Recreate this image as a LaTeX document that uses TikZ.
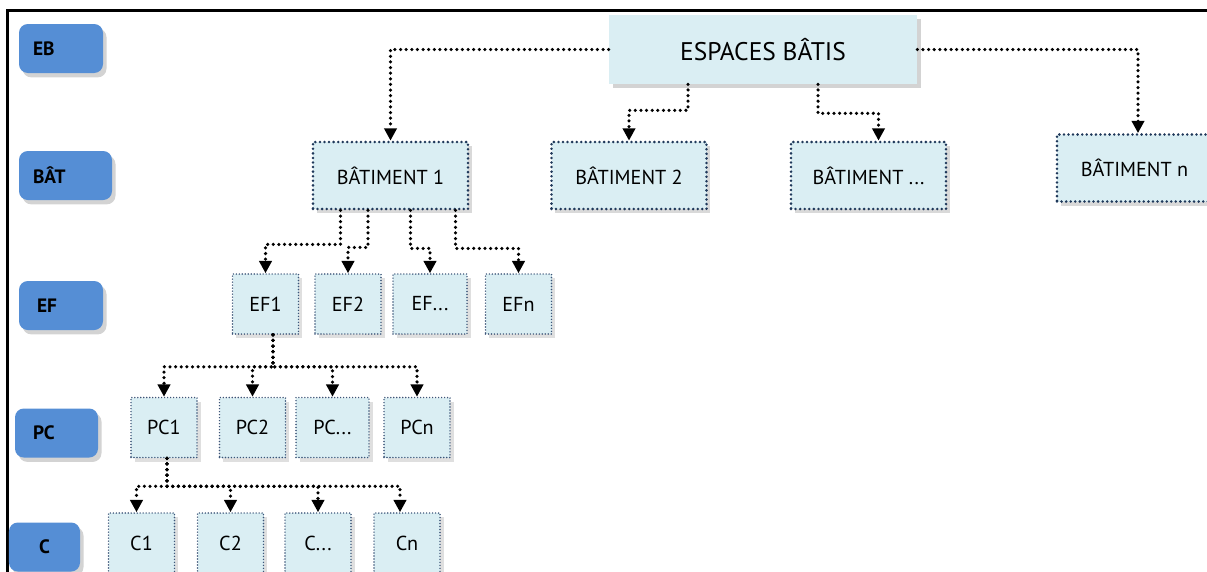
\documentclass[tikz,border=0pt]{standalone}
\usepackage{fontspec}
\setmainfont{PT Sans}
\usepackage{tikz}
\usetikzlibrary{arrows.meta, positioning, shadows}
\definecolor{lvlblue}{RGB}{85,142,213}
\definecolor{boxfill}{RGB}{218,238,243}
\definecolor{navy}{RGB}{31,56,90}
\definecolor{slate}{RGB}{60,85,120}

\begin{document}
\begin{tikzpicture}[
        lvl/.style={rectangle, rounded corners=5pt, fill=lvlblue, minimum height=0.98cm, inner xsep=0.28cm, text width=1.12cm, align=left, font=\bfseries\fontsize{11}{13}\selectfont, drop shadow={shadow xshift=2pt, shadow yshift=-2.5pt, opacity=0.35}},
        root/.style={rectangle, fill=boxfill, minimum width=6.16cm, minimum height=1.38cm, inner sep=0pt, font=\fontsize{14.5}{16}\selectfont, drop shadow={shadow xshift=2pt, shadow yshift=-2.5pt, opacity=0.35}},
        building/.style={rectangle, draw=navy, line width=1.6pt, dash pattern=on 0pt off 2.6pt, line cap=round, fill=boxfill, minimum width=3.1cm, minimum height=1.34cm, inner sep=0pt, font=\fontsize{11.5}{13}\selectfont, drop shadow={shadow xshift=2pt, shadow yshift=-2.5pt, opacity=0.3}},
        unit/.style={rectangle, draw=slate, line width=0.9pt, dash pattern=on 0pt off 1.7pt, line cap=round, fill=boxfill, minimum width=1.32cm, minimum height=1.2cm, inner sep=0pt, font=\fontsize{11.5}{13}\selectfont, drop shadow={shadow xshift=2pt, shadow yshift=-2.5pt, opacity=0.25}},
        arrow/.style={-{Triangle[width=7pt,length=7pt]}, line width=2pt, dash pattern=on 0pt off 3.2pt, line cap=round}
    ]
        \useasboundingbox (0,0) rectangle (24.14,-11.42);
        \draw [line width=1.8pt] (0.15,-11.6) -- (0.15,-0.21) -- (24.4,-0.21);

        \node (lvl_eb) [lvl] at (1.22,-0.97) {EB};
        \node (lvl_bat) [lvl, text width=1.30cm] at (1.31,-3.51) {BÂT};
        \node (lvl_ef) [lvl, inner xsep=0.36cm, text width=0.96cm] at (1.22,-6.11) {EF};
        \node (lvl_pc) [lvl, inner xsep=0.36cm, text width=0.94cm] at (1.13,-8.66) {PC};
        \node (lvl_c) [lvl, inner xsep=0.1cm, text width=1.22cm, align=center] at (0.89,-10.94) {C};

        \node (espaces) [root] at (15.26,-0.99) {ESPACES BÂTIS};

        \node (bat_1) [building] at (7.81,-3.51) {BÂTIMENT 1};
        \node (bat_2) [building] at (12.58,-3.51) {BÂTIMENT 2};
        \node (bat_etc) [building] at (17.37,-3.51) {BÂTIMENT ...};
        \node (bat_n) [building] at (22.69,-3.36) {BÂTIMENT n};

        \node (ef_1) [unit] at (5.31,-6.08) {EF1};
        \node (ef_2) [unit] at (6.96,-6.08) {EF2};
        \node (ef_etc) [unit, minimum width=1.48cm] at (8.60,-6.08) {EF...};
        \node (ef_n) [unit] at (10.37,-6.08) {EFn};

        \node (pc_1) [unit] at (3.28,-8.55) {PC1};
        \node (pc_2) [unit] at (5.05,-8.55) {PC2};
        \node (pc_etc) [unit, minimum width=1.46cm] at (6.65,-8.55) {PC...};
        \node (pc_n) [unit] at (8.34,-8.55) {PCn};

        \node (c_1) [unit, minimum height=1.22cm] at (2.83,-10.87) {C1};
        \node (c_2) [unit, minimum height=1.22cm] at (4.61,-10.87) {C2};
        \node (c_etc) [unit, minimum height=1.22cm] at (6.36,-10.87) {C...};
        \node (c_n) [unit, minimum height=1.22cm] at (8.14,-10.87) {Cn};

        \draw [arrow] (espaces.west) -| (bat_1.north);
        \draw [arrow] ([xshift=-1.5cm]espaces.south) -- ++(0,-0.52) -| (bat_2.north);
        \draw [arrow] ([xshift=1.1cm]espaces.south) -- ++(0,-0.58) -| ([xshift=0.2cm]bat_etc.north);
        \draw [arrow] (espaces.east) -| ([xshift=0.07cm]bat_n.north);

        \draw [arrow] ([xshift=-1.0cm]bat_1.south) -- ++(0,-0.68) -| (ef_1.north);
        \draw [arrow] ([xshift=-0.45cm]bat_1.south) -- ++(0,-0.74) -| (ef_2.north);
        \draw [arrow] ([xshift=0.4cm]bat_1.south) -- ++(0,-0.76) -| (ef_etc.north);
        \draw [arrow] ([xshift=1.3cm]bat_1.south) -- ++(0,-0.76) -| (ef_n.north);

        \draw [arrow] ([xshift=0.15cm]ef_1.south) -- ++(0,-0.64) -| (pc_1.north);
        \draw [arrow] ([xshift=0.15cm]ef_1.south) -- ++(0,-0.64) -| (pc_2.north);
        \draw [arrow] ([xshift=0.15cm]ef_1.south) -- ++(0,-0.64) -| (pc_etc.north);
        \draw [arrow] ([xshift=0.15cm]ef_1.south) -- ++(0,-0.64) -| (pc_n.north);

        \draw [arrow] ([xshift=0.06cm]pc_1.south) -- ++(0,-0.56) -| ([xshift=-0.1cm]c_1.north);
        \draw [arrow] ([xshift=0.06cm]pc_1.south) -- ++(0,-0.56) -| (c_2.north);
        \draw [arrow] ([xshift=0.06cm]pc_1.south) -- ++(0,-0.56) -| (c_etc.north);
        \draw [arrow] ([xshift=0.06cm]pc_1.south) -- ++(0,-0.56) -| ([xshift=-0.14cm]c_n.north);
    \end{tikzpicture}
\end{document}
